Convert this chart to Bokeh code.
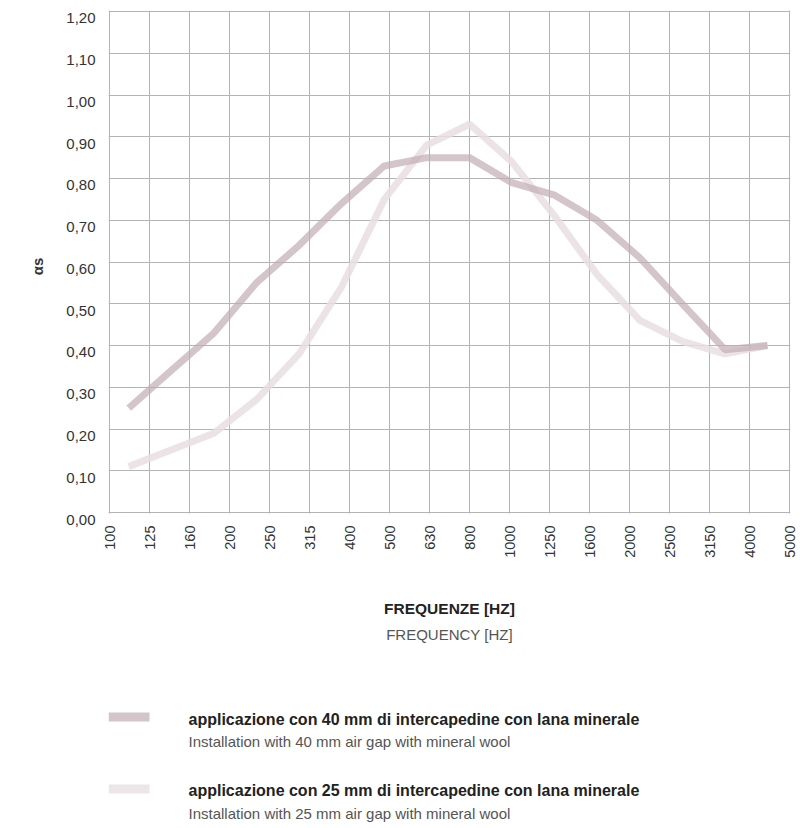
from bokeh.plotting import figure
from bokeh.models import Range1d, FixedTicker, CustomJSTickFormatter, LinearAxis, Grid
from bokeh.layouts import column
from bokeh.embed import file_html
from bokeh.resources import INLINE
from bokeh.core.properties import value
from math import pi

# ---- data ----
freq_labels = ["100", "125", "160", "200", "250", "315", "400", "500", "630",
               "800", "1000", "1250", "1600", "2000", "2500", "3150", "4000", "5000"]
freq_index = list(range(len(freq_labels)))
# positions of the measured points along the band axis (as drawn in the source)
point_pos = [0.48, 1.54, 2.61, 3.67, 4.74, 5.80, 6.87, 7.93, 9.00, 10.06,
             11.13, 12.19, 13.26, 14.32, 15.39, 16.45]
alpha_40mm = [0.25, 0.34, 0.43, 0.55, 0.64, 0.74, 0.83, 0.85, 0.85, 0.79,
              0.76, 0.70, 0.61, 0.50, 0.39, 0.40]
alpha_25mm = [0.11, 0.15, 0.19, 0.27, 0.38, 0.54, 0.75, 0.88, 0.93, 0.84,
              0.71, 0.57, 0.46, 0.41, 0.38, 0.40]
y_ticks = [0.0, 0.1, 0.2, 0.3, 0.4, 0.5, 0.6, 0.7, 0.8, 0.9, 1.0, 1.1, 1.2]

y_title = "αs"
x_title_it = "FREQUENZE [HZ]"
x_title_en = "FREQUENCY [HZ]"
legend_it = ["applicazione con 40 mm di intercapedine con lana minerale",
             "applicazione con 25 mm di intercapedine con lana minerale"]
legend_en = ["Installation with 40 mm air gap with mineral wool",
             "Installation with 25 mm air gap with mineral wool"]
series_colors = ["#c2adb3", "#e9dee2"]
swatch_colors = ["#d3c5c9", "#ede6e8"]

GRID = "#b4b4b4"
FONT = "Liberation Sans"

# ---- geometry (pixels) ----
W = 809
H1, H2 = 560, 266
X_MAX, Y_MAX = 17, 1.2
PX_X, PX_Y = 40.0, 420.0          # pixels per band / per unit of alpha
PAD_X, PAD_TOP, PAD_BOT = 1, 1, 10  # frame slack around the grid (px)
GRID_L, GRID_T = 109, 11            # page position of the 100 Hz / 1.20 grid lines
FRAME_L = GRID_L - PAD_X
FRAME_T = GRID_T - PAD_TOP
FRAME_W = int(X_MAX * PX_X) + 2 * PAD_X
FRAME_H = int(round(Y_MAX * PX_Y)) + PAD_TOP + PAD_BOT
FRAME_R = W - FRAME_L - FRAME_W
LABEL_SHIFT = 7 / PX_Y              # y tick labels sit 7px under their grid lines

x0, x1 = -PAD_X / PX_X, X_MAX + PAD_X / PX_X
y0, y1 = -PAD_BOT / PX_Y, Y_MAX + PAD_TOP / PX_Y

# ---- main chart ----
p = figure(width=W, height=H1, output_backend="svg", toolbar_location=None,
           x_range=Range1d(x0, x1), y_range=Range1d(y0, y1),
           y_axis_location=None,
           min_border_left=FRAME_L, min_border_right=FRAME_R,
           min_border_top=FRAME_T, min_border_bottom=H1 - FRAME_T - FRAME_H)
p.outline_line_color = None
p.background_fill_color = "white"
p.border_fill_color = "white"

# mask the slack strip under the 0,00 grid line
p.quad(left=[x0], right=[x1], bottom=[y0], top=[-1 / PX_Y],
       fill_color="white", line_color=None)

p.line(point_pos, alpha_25mm, line_color=series_colors[1], line_width=7,
       line_alpha=0.85, line_cap="butt")
p.line(point_pos, alpha_40mm, line_color=series_colors[0], line_width=7,
       line_alpha=0.7, line_cap="butt")

xt = FixedTicker(ticks=freq_index)
p.xaxis.ticker = xt
p.xgrid.ticker = xt
p.xaxis.major_label_overrides = {i: lab for i, lab in zip(freq_index, freq_labels)}
p.xaxis.major_label_orientation = pi / 2
p.xaxis.major_label_standoff = 13 - PAD_BOT
p.xaxis.axis_line_color = None
p.xaxis.major_tick_line_color = None
p.xaxis.minor_tick_line_color = None
p.xaxis.major_tick_out = 0
p.xaxis.major_tick_in = 0
p.xaxis.major_label_text_font = FONT
p.xaxis.major_label_text_font_size = "14.5px"
p.xaxis.major_label_text_color = "#333333"
p.xgrid.grid_line_color = GRID

yt = FixedTicker(ticks=y_ticks)
p.add_layout(Grid(dimension=1, ticker=yt, grid_line_color=GRID, grid_line_width=1))

# tick labels drawn 7px under their grid lines (as in the source)
p.extra_y_ranges = {"lab": Range1d(start=y0 + LABEL_SHIFT, end=y1 + LABEL_SHIFT)}
yax = LinearAxis(y_range_name="lab", ticker=yt,
                 formatter=CustomJSTickFormatter(code="return tick.toFixed(2).replace('.', ',');"),
                 axis_line_color=None, major_tick_line_color=None,
                 minor_tick_line_color=None, major_tick_out=0, major_tick_in=0,
                 major_label_standoff=14 - PAD_X, major_label_text_font=FONT,
                 major_label_text_font_size="15px", major_label_text_color="#333333",
                 axis_label=y_title, axis_label_text_font=FONT,
                 axis_label_text_font_style="bold", axis_label_text_font_size="15px",
                 axis_label_text_color="#333333", axis_label_standoff=17)
p.add_layout(yax, "left")

# ---- titles + legend panel (x in page pixels, y in pixels below the chart) ----
q = figure(width=W, height=H2, output_backend="svg", toolbar_location=None,
           x_range=Range1d(FRAME_L, FRAME_L + FRAME_W), y_range=Range1d(H2, 0),
           x_axis_type=None, y_axis_type=None,
           min_border_left=FRAME_L, min_border_right=FRAME_R,
           min_border_top=0, min_border_bottom=0)
q.outline_line_color = None
q.border_fill_color = "white"
q.background_fill_color = "white"

q.text(x=[449], y=[48], text=[x_title_it], text_font=value(FONT),
       text_font_style="bold", text_font_size="15.5px", text_align="center",
       text_baseline="middle", text_color="#222222")
q.text(x=[449], y=[74], text=[x_title_en], text_font=value(FONT),
       text_font_size="15px", text_align="center", text_baseline="middle",
       text_color="#555555")

sw_y = [156.5, 228.5]
it_y = [159, 230]
en_y = [181, 253]
q.quad(left=[108, 108], right=[149, 149],
       top=[s - 4.5 for s in sw_y], bottom=[s + 4.5 for s in sw_y],
       fill_color=swatch_colors, line_color=None)
q.text(x=[188, 188], y=it_y, text=legend_it, text_font=value(FONT),
       text_font_style="bold", text_font_size="16px", text_baseline="middle",
       text_color="#222222")
q.text(x=[188, 188], y=en_y, text=legend_en, text_font=value(FONT),
       text_font_size="15px", text_baseline="middle", text_color="#555555")

layout = column(p, q, spacing=0)
open("out.html", "w").write(file_html(layout, INLINE))
